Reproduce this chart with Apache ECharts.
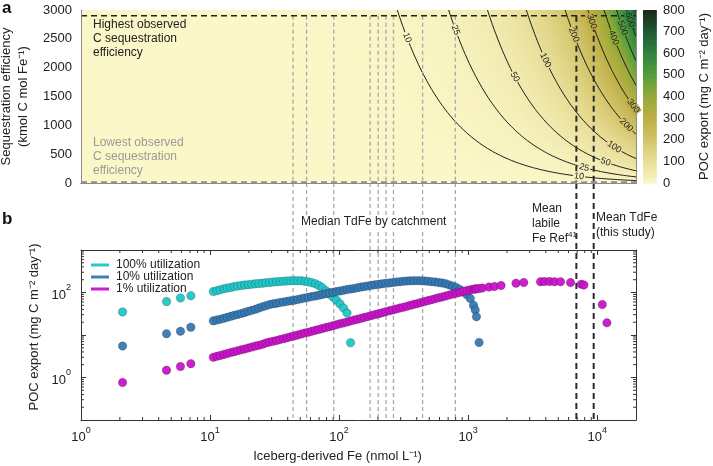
<!DOCTYPE html>
<html>
<head>
<meta charset="UTF-8">
<title>Iceberg Fe and POC export</title>
<style>html,body{margin:0;padding:0;background:#fff}</style>
</head>
<body>
<div id="main" style="width:713px;height:466px"></div>
<script src="https://cdn.jsdelivr.net/npm/echarts@6/dist/echarts.min.js"></script>
<script>
// ---------- data ----------
// panel b: iceberg-derived Fe (nmol L-1) of each sample (shared by the 3 series)
var feSamples = [2.1, 4.6, 5.9, 7.1,
  10.6, 11.3, 12.0, 12.8, 13.6, 14.5, 15.4, 16.4, 17.5, 18.6,
  19.8, 21.1, 22.5, 23.9, 25.5, 27.1, 28.9, 30.8, 32.8, 34.9,
  37.2, 39.6, 42.2, 44.9, 47.8, 50.9, 54.2, 57.7, 61.5, 65.5,
  69.7, 74.2, 79.0, 84.2, 89.6, 95.4, 101.6, 108.2, 115.2, 122.7,
  130.7, 139.2, 148.2, 157.8, 168.1, 179.0, 190.6, 203, 216, 230,
  245, 261, 278, 296, 315, 336, 358, 381, 406, 432,
  460, 490, 522, 556, 592, 630, 671, 715, 761, 810,
  863, 919, 979,
  1040, 1100, 1135, 1160, 1216,
  1290, 1450, 1600, 1800,
  2350, 2700, 3640, 3910, 4270, 4670, 5200, 6220, 7530, 7900, 10960, 11900];
// POC export (mg C m-2 day-1); samples further right drop below the axis
var poc100 = [35, 61, 74, 84,
  105, 110, 116, 122, 127, 132, 138, 142, 146, 150,
  153, 157, 160, 163, 166, 170, 173, 176, 179, 182,
  185, 187, 189, 190, 190, 188, 184, 178, 170, 160,
  146, 130, 110, 92, 78, 66, 54, 43, 33, 6.6];
var poc10 = [5.5, 10.7, 12.3, 15.2,
  21.5, 22.5, 23.5, 24.7, 26, 27.5, 29, 30.5, 32, 34,
  36, 38, 40.5, 43, 46, 49, 52, 54, 56, 58,
  60, 62, 64, 66, 68, 71, 74, 77, 80, 83,
  86, 90, 94, 98, 101, 105, 109, 113, 117, 121,
  125, 130, 134, 139, 143, 148, 152, 156, 160, 164,
  168, 172, 176, 180, 183, 186, 188, 190, 190, 189,
  187, 184, 180, 176, 171, 167, 160, 151, 141, 131,
  118, 103, 88,
  72, 50, 39, 27, 6.7];
var poc1 = [0.76, 1.48, 1.81, 2.12,
  3.0, 3.15, 3.3, 3.5, 3.66, 3.85, 4.04, 4.25, 4.48, 4.7,
  4.94, 5.2, 5.48, 5.74, 6.05, 6.5, 6.8, 7.1, 7.4, 7.8,
  8.2, 8.6, 9.06, 9.5, 10.0, 10.5, 11.1, 11.6, 12.2, 12.9,
  13.5, 14.2, 15.0, 15.7, 16.6, 17.4, 18.3, 19.2, 20.2, 21.3,
  22.4, 23.5, 24.8, 26, 27.4, 28.8, 30.3, 31.8, 33.4, 35.2,
  37, 38.9, 40.9, 43, 45.2, 47.6, 50, 52.7, 55.4, 58.2,
  61.2, 64.4, 67.8, 71.3, 75, 78.8, 82.8, 87, 91.6, 96.3,
  101, 106.6, 112,
  116, 119, 121, 122, 124,
  127, 134, 139, 146,
  166, 171, 180, 181, 181, 180, 179, 171, 157, 151, 52, 19.3];
var seriesNames = ['100% utilization', '10% utilization', '1% utilization'];

// vertical reference lines (nmol L-1)
var catchmentFe = [44, 56, 91, 174, 201, 231, 264, 444, 796];
var labileFeRef = 6900;
var meanTdFe = 9400;

// panel a
var seqHighest = 2900;
var seqLowest = 15;
var contourLevels = [10, 25, 50, 100, 200, 300, 400, 500, 600, 700];
// POC export = pocCoef * Fe * efficiency (fitted to where the contours cross)
var pocCoef = 1.18e-5;
var feRange = [1, 20000];
var seqRange = [0, 3000];
var pocRange = [0, 800];

// ---------- layout / style ----------
var GA = {left: 81, top: 10, width: 555, height: 173, outerBoundsMode: 'none'};
var GB = {left: 81, top: 250, width: 555, height: 170, outerBoundsMode: 'none'};
var GC = {left: 643, top: 10, width: 13, height: 173, outerBoundsMode: 'none'};
var palette = ['#fbf7c8', '#e8de98', '#d3c56a', '#bdaf46', '#95aa38', '#559d3d', '#2f8440', '#1f5a32', '#19291d'];
var dotColors = ['#22c6c6', '#3679b3', '#c814c8'];
// where the contour numbers sit: [level, efficiency]
var contourLabelSpots = [[10, 2520], [25, 2650], [50, 1840], [100, 2130], [200, 2570], [300, 2800],
  [400, 2520], [500, 2690], [600, 2830], [10, 117], [25, 267], [50, 364], [100, 624], [200, 1006], [300, 1335]];

var FONT = 'Liberation Sans, Arial, sans-serif';

// heat field cells
var NX = 170, NY = 70;
var lx0 = Math.log10(feRange[0]), lx1 = Math.log10(feRange[1]);
var heat = [];
for (var i = 0; i < NX; i++) {
  var fa = Math.pow(10, lx0 + (lx1 - lx0) * i / NX);
  var fb = Math.pow(10, lx0 + (lx1 - lx0) * (i + 1) / NX);
  for (var j = 0; j < NY; j++) {
    var ea = seqRange[1] * j / NY, eb = seqRange[1] * (j + 1) / NY;
    heat.push([fa, fb, ea, eb, pocCoef * Math.sqrt(fa * fb) * (ea + eb) / 2]);
  }
}
// colour bar cells
var bar = [];
for (var v = pocRange[0]; v < pocRange[1]; v += 4) bar.push([0, 1, v, v + 4, v + 2]);

function cellItem(params, api) {
  var p0 = api.coord([api.value(0), api.value(3)]);
  var p1 = api.coord([api.value(1), api.value(2)]);
  return {
    type: 'rect',
    shape: {x: p0[0], y: p0[1], width: p1[0] - p0[0] + 0.7, height: p1[1] - p0[1] + 0.7},
    style: {fill: api.visual('color')}
  };
}

function supLabel(v) {
  var e = Math.log10(v);
  if (Math.abs(e - Math.round(e)) > 1e-6) return '';
  return '{b|10}{s|' + Math.round(e) + '}';
}

var grayLine = {stroke: '#a9a9a9', lineWidth: 1.3, lineDash: [4, 3]};
var blackLine = {stroke: '#2a2a2a', lineWidth: 2, lineDash: [6, 4]};
var vlines = catchmentFe.map(function (f) { return [f, 0]; })
  .concat([[labileFeRef, 1], [meanTdFe, 1]]);

// contour line series
var contourSeries = contourLevels.map(function (lev) {
  var f0 = lev / (pocCoef * seqRange[1]);
  var pts = [];
  for (var k = 0; k <= 90; k++) {
    var f = f0 * Math.pow(feRange[1] / f0, k / 90);
    pts.push([f, lev / (pocCoef * f)]);
  }
  return {
    type: 'line', xAxisIndex: 0, yAxisIndex: 0, data: pts, showSymbol: false,
    silent: true, z: 3, clip: true,
    lineStyle: {color: '#1d1d1d', width: 1}
  };
});

var minorTicks = [];
for (var n = 0; n <= 4; n++) for (var m = 2; m <= 9; m++) {
  if (m * Math.pow(10, n) < feRange[1]) minorTicks.push([0, m * Math.pow(10, n)]);
}
for (var n2 = -1; n2 <= 2; n2++) for (var m2 = 2; m2 <= 9; m2++) minorTicks.push([1, m2 * Math.pow(10, n2)]);

function pairs(vals) {
  var out = [];
  for (var i = 0; i < vals.length; i++) if (vals[i] != null) out.push([feSamples[i], vals[i]]);
  return out;
}

var richSup = {
  b: {fontFamily: FONT, fontSize: 13, color: '#222', lineHeight: 18, verticalAlign: 'bottom'},
  s: {fontFamily: FONT, fontSize: 9, color: '#222', verticalAlign: 'top', lineHeight: 10}
};

var myChart = echarts.init(document.getElementById('main'));
var series = [
  {
    type: 'custom', name: 'heat', xAxisIndex: 0, yAxisIndex: 0, data: heat,
    renderItem: cellItem, encode: {x: [0, 1], y: [2, 3]}, silent: true, z: 1, progressive: 0
  },
  {
    type: 'custom', name: 'bar', xAxisIndex: 4, yAxisIndex: 4, data: bar,
    renderItem: cellItem, encode: {x: [0, 1], y: [2, 3]}, silent: true, z: 1, progressive: 0
  },
  // horizontal observed efficiency lines
  {
    type: 'custom', xAxisIndex: 0, yAxisIndex: 0, silent: true, z: 5,
    data: [[seqHighest, 1], [seqLowest, 0]],
    renderItem: function (params, api) {
      var a = api.coord([feRange[0], api.value(0)]);
      var b = api.coord([feRange[1], api.value(0)]);
      return {type: 'line', shape: {x1: a[0], y1: a[1], x2: b[0], y2: b[1]},
        style: api.value(1) ? {stroke: '#222', lineWidth: 1.6, lineDash: [6, 4]}
          : {stroke: '#8e8e8e', lineWidth: 1.6, lineDash: [6, 4]}};
    }
  },
  // vertical lines in panel a
  {
    type: 'custom', xAxisIndex: 0, yAxisIndex: 0, silent: true, z: 4, data: vlines,
    renderItem: function (params, api) {
      var x = api.coord([api.value(0), 0])[0];
      var y1 = api.coord([api.value(0), seqHighest])[1];
      var y2 = api.coord([api.value(0), seqRange[0]])[1];
      return {type: 'line', shape: {x1: x, y1: y1, x2: x, y2: y2}, style: api.value(1) ? blackLine : grayLine};
    }
  },
  // vertical lines in panel b, carried up through the gap
  {
    type: 'custom', xAxisIndex: 2, yAxisIndex: 2, silent: true, z: 1, data: vlines,
    renderItem: function (params, api) {
      var x = api.coord([api.value(0), 1])[0];
      var y2 = api.coord([api.value(0), 0.1])[1];
      return {type: 'line', shape: {x1: x, y1: GA.top + GA.height, x2: x, y2: y2}, style: api.value(1) ? blackLine : grayLine};
    }
  },
  // contour labels, on a patch of the local field colour so they break the line
  {
    type: 'custom', xAxisIndex: 0, yAxisIndex: 0, silent: true, z: 6, data: contourLabelSpots,
    renderItem: function (params, api) {
      var lev = api.value(0), e = api.value(1);
      var f = lev / (pocCoef * e);
      var p = api.coord([f, e]);
      var q = api.coord([f * 1.02, e / 1.02]);
      var ang = Math.atan2(q[1] - p[1], q[0] - p[0]);
      var bg = echarts.color.lerp(Math.min(1, lev / pocRange[1]), palette);
      return {type: 'text', x: p[0], y: p[1], rotation: -ang,
        style: {text: String(lev), x: 0, y: 0, align: 'center', verticalAlign: 'middle',
          font: '9px ' + FONT, fill: '#222', backgroundColor: bg, padding: [0, 1]}};
    }
  },
  // minor log ticks in panel b
  {
    type: 'custom', xAxisIndex: 2, yAxisIndex: 2, silent: true, z: 8, data: minorTicks,
    renderItem: function (params, api) {
      var lo = api.coord([feRange[0], 0.1]);
      var hi = api.coord([feRange[1], 1000]);
      var L = 3;
      if (api.value(0) === 0) {
        var x = api.coord([api.value(1), 1])[0];
        return {type: 'group', children: [
          {type: 'line', shape: {x1: x, y1: lo[1], x2: x, y2: lo[1] - L}, style: {stroke: '#333', lineWidth: 1}},
          {type: 'line', shape: {x1: x, y1: hi[1], x2: x, y2: hi[1] + L}, style: {stroke: '#333', lineWidth: 1}}
        ]};
      }
      var y = api.coord([1, api.value(1)])[1];
      return {type: 'group', children: [
        {type: 'line', shape: {x1: lo[0], y1: y, x2: lo[0] + L, y2: y}, style: {stroke: '#333', lineWidth: 1}},
        {type: 'line', shape: {x1: hi[0], y1: y, x2: hi[0] - L, y2: y}, style: {stroke: '#333', lineWidth: 1}}
      ]};
    }
  }
].concat(contourSeries);

[poc100, poc10, poc1].forEach(function (vals, k) {
  series.push({
    type: 'scatter', name: seriesNames[k], xAxisIndex: 2, yAxisIndex: 2, data: pairs(vals),
    symbolSize: 8.5, z: 5 + k,
    itemStyle: {color: dotColors[k], borderColor: 'rgba(0,0,0,0.3)', borderWidth: 0.7, opacity: 0.95}
  });
});

var option = {
  animation: false,
  textStyle: {fontFamily: FONT},
  grid: [GA, GB, GC],
  visualMap: {
    type: 'continuous', show: false, min: pocRange[0], max: pocRange[1], dimension: 4,
    seriesIndex: [0, 1], inRange: {color: palette}
  },
  legend: {
    left: 86, top: 254, orient: 'vertical', itemGap: 0, itemWidth: 18, itemHeight: 3,
    textStyle: {fontFamily: FONT, fontSize: 12, color: '#222', padding: [0, 0, 0, 2]},
    data: seriesNames.map(function (n, k) { return {name: n, icon: 'rect', itemStyle: {color: dotColors[k], borderWidth: 0}}; })
  },
  xAxis: [
    {gridIndex: 0, type: 'log', min: feRange[0], max: feRange[1], z: 10,
      axisLine: {lineStyle: {color: '#8c8c8c'}}, axisTick: {show: false}, axisLabel: {show: false}, splitLine: {show: false}},
    {gridIndex: 0, type: 'log', position: 'top', min: feRange[0], max: feRange[1], z: 10,
      axisLine: {lineStyle: {color: '#8c8c8c'}}, axisTick: {show: false}, axisLabel: {show: false}, splitLine: {show: false}},
    {gridIndex: 1, type: 'log', min: feRange[0], max: feRange[1], z: 10,
      name: 'Iceberg-derived Fe (nmol L\u207B\u00B9)', nameLocation: 'middle', nameGap: 30,
      nameTextStyle: {fontFamily: FONT, fontSize: 13, color: '#222', padding: [0, 42, 0, 0]},
      axisLine: {lineStyle: {color: '#333'}}, axisTick: {inside: true, length: 5, lineStyle: {color: '#333'}},
      axisLabel: {margin: 6, formatter: supLabel, rich: richSup}, splitLine: {show: false}},
    {gridIndex: 1, type: 'log', position: 'top', min: feRange[0], max: feRange[1], z: 10,
      axisLine: {lineStyle: {color: '#333'}}, axisTick: {inside: true, length: 5, lineStyle: {color: '#333'}},
      axisLabel: {show: false}, splitLine: {show: false}},
    {gridIndex: 2, type: 'value', min: 0, max: 1, show: false}
  ],
  yAxis: [
    {gridIndex: 0, type: 'value', min: seqRange[0], max: seqRange[1], interval: 500, z: 10,
      name: 'Sequestration efficiency\n(kmol C mol Fe\u207B\u00B9)', nameLocation: 'middle', nameGap: 48,
      nameTextStyle: {fontFamily: FONT, fontSize: 13, color: '#222', lineHeight: 17},
      axisLine: {show: true, lineStyle: {color: '#8c8c8c'}}, axisTick: {show: false},
      axisLabel: {margin: 9, fontFamily: FONT, fontSize: 13, color: '#222', formatter: function (v) { return String(v); }},
      splitLine: {show: false}},
    {gridIndex: 0, type: 'value', position: 'right', min: seqRange[0], max: seqRange[1], z: 10,
      axisLine: {show: true, lineStyle: {color: '#8c8c8c'}}, axisTick: {show: false}, axisLabel: {show: false}, splitLine: {show: false}},
    {gridIndex: 1, type: 'log', min: 0.1, max: 1000, z: 10,
      name: 'POC export (mg C m\u207B\u00B2 day\u207B\u00B9)', nameLocation: 'middle', nameGap: 36,
      nameTextStyle: {fontFamily: FONT, fontSize: 13, color: '#222', padding: [0, 0, 0, 16]},
      axisLine: {show: true, lineStyle: {color: '#333'}}, axisTick: {inside: true, length: 5, lineStyle: {color: '#333'}},
      axisLabel: {margin: 10, formatter: function (v) { var e = Math.round(Math.log10(v)); return (e === 0 || e === 2) ? supLabel(v) : ''; }, rich: richSup},
      splitLine: {show: false}},
    {gridIndex: 1, type: 'log', position: 'right', min: 0.1, max: 1000, z: 10,
      axisLine: {show: true, lineStyle: {color: '#333'}}, axisTick: {inside: true, length: 5, lineStyle: {color: '#333'}},
      axisLabel: {show: false}, splitLine: {show: false}},
    {gridIndex: 2, type: 'value', position: 'right', min: pocRange[0], max: pocRange[1], interval: 100,
      name: 'POC export (mg C m\u207B\u00B2 day\u207B\u00B9)', nameLocation: 'middle', nameGap: 42, nameRotate: 90,
      nameTextStyle: {fontFamily: FONT, fontSize: 13, color: '#222'},
      axisLine: {show: false}, axisTick: {show: false},
      axisLabel: {margin: 7, fontFamily: FONT, fontSize: 13, color: '#222'}, splitLine: {show: false}}
  ],
  graphic: [
    {type: 'text', left: 2, top: 0, z: 100, style: {text: 'a', font: 'bold 17px ' + FONT, fill: '#111'}},
    {type: 'text', left: 2, top: 211, z: 100, style: {text: 'b', font: 'bold 17px ' + FONT, fill: '#111'}},
    {type: 'text', left: 93, top: 18, z: 100, style: {text: 'Highest observed\nC sequestration\nefficiency', font: '12px ' + FONT, lineHeight: 14, fill: '#222'}},
    {type: 'text', left: 93, top: 136, z: 100, style: {text: 'Lowest observed\nC sequestration\nefficiency', font: '12px ' + FONT, lineHeight: 14, fill: '#9a9a9a'}},
    {type: 'text', left: 300, top: 215, z: 100, style: {text: 'Median TdFe by catchment', font: '12px ' + FONT, fill: '#222', backgroundColor: '#fff', padding: [1, 1]}},
    {type: 'text', left: 532, top: 201, z: 100, style: {text: 'Mean\nlabile\nFe Ref{s|41}', font: '12px ' + FONT, lineHeight: 15, fill: '#222',
      rich: {s: {fontFamily: FONT, fontSize: 8, verticalAlign: 'top', lineHeight: 9, fill: '#222'}}}},
    {type: 'text', left: 596, top: 210, z: 100, style: {text: 'Mean TdFe\n(this study)', font: '12px ' + FONT, lineHeight: 15, fill: '#222'}}
  ],
  series: series
};

myChart.setOption(option);
</script>
</body>
</html>
